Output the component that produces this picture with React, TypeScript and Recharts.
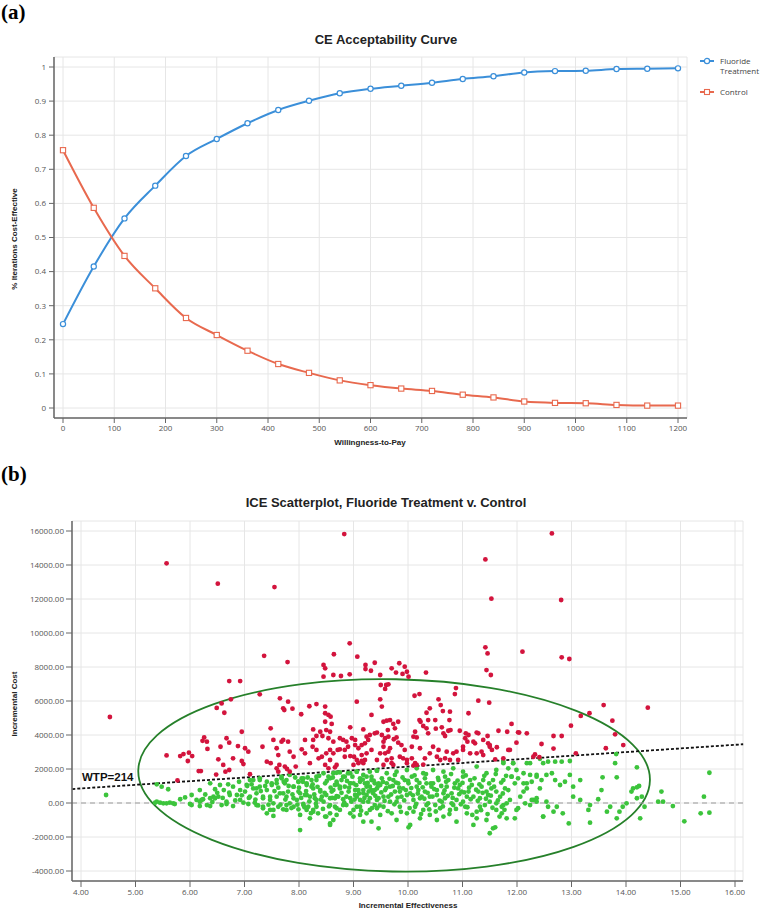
import React from 'react';
import {
  LineChart, Line, ScatterChart, Scatter, XAxis, YAxis, CartesianGrid,
  ReferenceLine, ReferenceArea,
} from 'recharts';

// ---- panel (a): CE acceptability curve ----
const wtpValues = [0, 60, 120, 180, 240, 300, 360, 420, 480, 540, 600, 660, 720, 780, 840, 900, 960, 1020, 1080, 1140, 1200];
const fluorideShare = [0.246, 0.415, 0.556, 0.652, 0.739, 0.789, 0.835, 0.874, 0.901, 0.923, 0.936, 0.945, 0.954, 0.965, 0.973, 0.984, 0.988, 0.989, 0.994, 0.995, 0.996];
const controlShare = [0.756, 0.587, 0.446, 0.351, 0.264, 0.214, 0.168, 0.129, 0.103, 0.081, 0.067, 0.057, 0.050, 0.039, 0.031, 0.019, 0.015, 0.014, 0.009, 0.007, 0.007];
const acceptXTicks = [0, 100, 200, 300, 400, 500, 600, 700, 800, 900, 1000, 1100, 1200];
const acceptYTicks = [0, 0.1, 0.2, 0.3, 0.4, 0.5, 0.6, 0.7, 0.8, 0.9, 1];

// ---- panel (b): ICE scatter (incremental effectiveness, incremental cost) ----
const redPoints: [number, number][] = [
  [5.57, 14100], [6.51, 12900], [7.55, 12700], [8.83, 15820], [8.93, 9390], [11.42, 14330], [12.64, 15860], [11.53, 12020], [12.81, 11940], [11.42, 9160],
  [4.53, 5060], [7.36, 8660], [7.79, 8290], [8.64, 8750], [9.07, 8610], [6.72, 7170], [6.92, 7170], [8.45, 8120], [8.48, 7920], [8.45, 7430], [8.63, 7530], [8.77, 7470], [8.93, 7570], [9.22, 8120], [9.22, 7880], [9.39, 8250], [9.32, 7780],
  [7.28, 6390], [6.49, 5590], [6.58, 5860], [6.75, 6100], [6.63, 5310], [7.65, 6160], [7.80, 5960], [7.71, 5570], [7.73, 5470], [7.88, 5550], [8.04, 5220], [8.19, 5690], [8.32, 5820], [8.48, 5670], [8.48, 5280], [8.54, 5180], [8.58, 5080], [9.06, 5960], [9.33, 5180],
  [5.57, 2800], [5.82, 2760], [5.88, 2880], [5.98, 2960], [6.04, 2760], [5.96, 2470], [6.26, 3860], [6.23, 3660], [6.31, 3610], [6.32, 3180], [6.16, 1880], [6.20, 1880], [5.77, 1330], [6.52, 2570], [6.56, 3310], [6.61, 2240], [6.67, 3810], [6.72, 3550], [6.88, 3350], [6.95, 4190], [7.01, 3220], [7.07, 3020], [6.79, 2630], [6.95, 2470], [6.98, 2290], [6.72, 1940], [6.65, 1840], [6.48, 1670], [7.10, 1690],
  [7.33, 3310], [7.48, 4390], [7.53, 3710], [7.59, 3220], [7.68, 3610], [7.71, 3710], [7.80, 3610], [7.41, 2430], [7.48, 2340], [7.59, 2040], [7.64, 2240], [7.74, 2140], [7.78, 2000], [7.83, 3020], [7.90, 2720], [8.05, 3160], [8.11, 2920], [7.94, 2140], [8.11, 3710], [8.26, 4330], [8.32, 3940], [8.25, 3310], [8.36, 2630], [8.42, 2720], [8.20, 2340], [8.39, 4190], [8.48, 4780], [8.50, 4290], [8.57, 4190], [8.60, 4650], [8.43, 3940], [8.54, 3810], [8.63, 3610], [8.57, 3120], [8.63, 2920], [8.71, 3120], [8.57, 2530], [8.48, 2240], [8.54, 2040], [8.66, 2100], [8.75, 3160], [8.84, 3120], [8.90, 3310], [8.81, 3710], [8.87, 3610], [8.97, 3810], [8.94, 4450], [8.84, 2720], [8.94, 2760], [9.01, 2720], [9.09, 3220], [9.15, 3410], [9.21, 3510], [9.03, 3710], [9.18, 4330], [9.30, 4000], [9.27, 3710], [9.39, 4100], [9.00, 2240], [9.09, 2340], [9.15, 2470], [9.21, 2530], [9.24, 2920], [9.33, 3120], [9.43, 2530],
  [11.46, 8800], [12.10, 8900], [12.82, 8570], [12.96, 8470], [11.44, 7820], [11.52, 7530], [9.49, 7530], [9.60, 6940], [9.64, 6980], [9.70, 7920], [9.78, 7670], [9.84, 8220], [9.90, 7590], [9.94, 8020], [9.98, 7720], [10.01, 7430], [10.33, 7670], [10.12, 6310], [10.21, 6410], [10.88, 6760], [10.86, 6410], [11.29, 6020], [11.49, 5900], [11.11, 5280], [10.56, 6100], [10.60, 5760], [10.64, 5410], [10.40, 5570], [10.34, 5310], [10.37, 4880], [10.21, 4880], [10.23, 4780], [10.77, 5370], [10.76, 4880], [10.78, 4290], [10.74, 4250], [10.95, 4250], [10.50, 4880], [10.51, 4370], [10.62, 4450], [10.65, 4100], [10.68, 3940], [10.28, 4530], [10.34, 4390], [10.37, 4100], [10.13, 4190], [10.10, 3900], [10.16, 3860], [11.06, 4100], [11.11, 4000], [11.05, 3810], [11.09, 3610], [11.26, 4140], [11.29, 4100], [11.46, 3940], [11.20, 3610], [11.23, 3510], [11.47, 3510], [11.50, 3310], [11.63, 3280], [11.54, 3120], [11.66, 4250], [11.82, 4190], [11.90, 4650], [12.02, 4160], [12.18, 4100], [11.99, 3550], [11.84, 3120], [12.45, 3470], [12.67, 3940], [12.82, 3940], [12.67, 3200], [12.33, 2860], [12.41, 2690], [12.99, 4550], [13.08, 2920], [13.17, 5120], [13.33, 5280], [13.59, 5760], [13.75, 4840], [13.80, 4040], [13.63, 3220], [13.95, 3410], [14.40, 5610],
  [9.49, 6100], [9.52, 5670], [9.55, 4780], [9.61, 4840], [9.67, 4880], [9.73, 4650], [9.82, 4780], [9.76, 4390], [9.52, 4000], [9.58, 3810], [9.64, 3900], [9.74, 3750], [9.79, 3860], [9.82, 3550], [9.55, 3310], [9.64, 3020], [9.67, 3220], [9.58, 2920], [9.49, 2920], [9.61, 2530], [9.70, 2630], [9.73, 2240], [9.55, 2240], [9.88, 3410], [9.94, 3120], [9.85, 2720], [9.98, 2530], [10.07, 2630], [10.07, 3310], [10.22, 3220], [10.31, 2630], [10.40, 2920], [10.46, 3310], [10.53, 2720], [10.59, 2530], [10.71, 3020], [10.77, 2530], [10.89, 3020], [10.92, 2530], [11.01, 3120], [10.56, 3120], [10.13, 2340], [10.28, 2260], [10.10, 2200],
  [11.14, 2920], [11.35, 3020], [11.38, 2820], [11.60, 2570], [9.50, 6940], [9.58, 6710], [9.43, 4140], [9.63, 4290], [12.04, 4140],
  [7.62, 2820], [8.26, 3710], [8.32, 3120], [8.50, 2920], [8.69, 2240], [7.62, 1840], [7.83, 1840],
  [8.75, 3810], [9.03, 3410], [9.06, 2530], [9.15, 2820], [9.18, 2340], [9.24, 3900], [9.55, 3610], [9.70, 2340], [9.91, 2630], [9.98, 2340], [10.16, 2240], [10.68, 2630], [10.83, 2920], [11.01, 3310], [11.26, 2920], [11.38, 3710], [11.50, 3410], [11.75, 2630], [11.87, 3120], [12.30, 2720],
];

const greenPoints: [number, number][] = [
  [4.46, 470], [5.39, 1100], [5.48, 960], [5.60, 810], [5.36, 20], [5.45, 20], [5.57, -20], [5.69, -20], [5.91, 330], [6.03, 470], [6.18, 760], [6.00, -60], [6.12, 180], [6.24, 220], [6.43, 370], [6.46, 810], [6.37, 1160], [6.55, 1060], [6.62, 760], [6.72, 610], [6.79, 960], [6.90, 1250], [6.92, 760], [7.04, 1060], [7.16, 1350], [7.28, 1450], [7.41, 1250], [7.50, 1160],
  [6.18, 80], [6.31, -120], [6.67, -60], [6.79, -180], [6.98, 20], [7.07, -60], [7.19, 20], [7.25, -140], [7.34, -220], [7.47, -410], [7.53, -20], [7.62, -220], [7.71, -370], [7.77, -120], [7.90, -220], [7.99, -370], [8.08, -60], [8.17, -220], [8.26, -410], [7.41, -610], [7.53, -760], [8.02, -1590], [8.35, -610], [8.48, -800], [8.57, -1200], [8.63, -1000], [8.75, -410], [8.87, -120], [9.00, -410], [9.00, -800], [9.12, -220], [9.24, -610], [9.43, -310], [9.46, -1490], [9.33, -1100],
  [7.59, 1160], [7.68, 1450], [7.77, 1350], [7.83, 1650], [7.90, 960], [7.99, 1250], [8.05, 1450], [8.14, 1160], [8.23, 960], [8.32, 1350], [8.39, 760], [8.48, 1160], [8.54, 1550], [8.63, 760], [8.69, 1250], [8.75, 960], [8.84, 1550], [8.94, 1160], [9.03, 760], [9.12, 1250], [9.18, 570], [9.24, 960], [9.33, 1350], [9.39, 760], [9.46, 1160],
  [7.65, 570], [7.77, 370], [7.90, 280], [8.02, 570], [8.14, 470], [8.29, 280], [8.42, 370], [8.57, 280], [8.69, 410], [8.81, 220], [8.94, 280], [9.06, 370], [9.18, 80], [9.30, 280], [9.43, 180],
  [8.63, 1750], [8.75, 1800], [8.90, 1750], [9.06, 1840], [9.18, 1650], [9.30, 1840], [9.43, 1900],
  [7.28, 960], [7.22, 570], [7.10, 370], [7.34, 280], [7.47, 370], [7.16, 860],
  [8.75, 860], [8.87, 370], [9.00, 1160], [9.12, 180], [9.18, 760], [9.30, 960], [9.36, 570], [9.46, 280], [9.49, 1060], [9.58, 760], [9.64, 370], [9.73, 1350], [9.79, 80], [9.85, -220], [9.91, 860], [9.98, 470], [10.07, 1550], [10.10, 180], [10.19, 760], [10.28, -410], [10.34, 1160], [10.40, 370], [10.50, -120], [10.56, 1350], [10.65, 570], [10.71, 960], [10.77, -410], [10.86, 1160], [10.89, 180], [10.98, 670], [11.05, -220], [11.14, 1350], [11.20, 370], [11.26, -510], [11.35, 960], [11.41, -120], [11.47, 470], [11.56, 1350], [11.62, -410], [11.69, 370], [11.78, 860], [11.87, 180], [11.96, 1160], [12.02, -310], [12.12, 670], [12.24, 1650], [12.30, 180], [12.42, 860], [12.48, -800],
  [8.69, 1780], [8.81, 1550], [8.94, 1750], [9.06, 1840], [9.24, 1550], [9.43, 1900], [9.61, 1750], [9.79, 1840], [9.98, 1940], [10.16, 2040], [10.28, 1750], [10.46, 1940], [10.65, 1840], [10.83, 2040], [11.01, 1840], [11.26, 2140], [11.44, 1750], [11.62, 1940], [11.75, 2340], [11.93, 2340], [12.12, 1750], [12.24, 2340], [12.36, 1550], [12.48, 2340],
  [8.69, -700], [8.94, -610], [9.18, -1100], [9.79, -1000], [10.01, -1430], [10.04, -1290], [10.22, -900], [10.53, -1000], [10.89, -1100], [11.20, -1290], [11.44, -1000], [11.50, -1780], [11.56, -1490], [11.81, -900],
  [8.66, -220], [8.81, -120], [9.06, -220], [9.30, -410], [9.55, -220], [9.70, -610], [10.10, -510], [10.34, -120], [10.59, -310], [10.83, -120], [11.08, -610], [11.32, -220], [11.75, -120], [11.99, -410], [12.24, -120],
  [8.84, 960], [9.09, 760], [9.24, 470], [9.39, 1160], [9.52, 1450], [9.67, 960], [9.85, 670], [10.01, 1160], [10.16, 1350], [10.25, 370], [10.43, 960], [10.53, 470], [10.62, 80], [10.80, 570], [10.95, 1060], [11.08, 370], [11.29, 670], [11.38, 1350], [11.53, 860], [11.75, 1350], [11.90, 1550], [12.06, 370], [12.18, 1160], [12.36, 80], [12.54, 80],
  [11.75, 2430], [11.84, 2040], [11.93, 2340], [11.99, 1940], [11.90, 1550], [12.02, 1450], [12.12, 1160], [12.18, 860], [12.27, 1250], [12.36, 1650], [12.45, 1350], [12.54, 1650], [12.64, 1750], [12.70, 1350], [12.79, 1060], [12.88, 1250], [12.97, 1650], [13.16, 1350], [13.03, 960], [12.70, 2430], [12.82, 2430], [12.97, 2470], [12.42, 2600], [12.57, 2430], [12.18, 2340],
  [11.96, -900], [12.15, -20], [12.27, 180], [12.36, 280], [12.48, -800], [12.57, -220], [12.67, -510], [12.73, -220], [12.84, -610], [12.95, -1200], [13.03, 370], [13.16, 180], [13.31, -410], [13.34, -120], [13.34, -1160], [13.49, 220], [13.55, 760], [13.65, -510], [13.71, -220], [13.83, -900], [13.88, -510], [13.94, -220], [14.01, -20], [14.10, 670], [14.13, 860], [14.20, 920], [14.24, 1000], [14.20, 280], [14.29, 370], [14.26, -900], [14.34, -220], [14.20, 2100], [13.82, 2880], [13.80, 2340], [13.83, 1510], [13.57, 1510], [14.65, 670], [14.68, 80], [14.86, -180], [15.07, -1080], [15.37, -610], [15.43, 370], [15.53, -570], [15.53, 1780], [14.59, 80],
  [11.60, -1430], [11.72, -610], [11.81, -20], [11.62, -20],
  [5.39, 80], [5.51, -20], [5.63, 20], [5.72, -60], [5.82, 220], [6.21, 180], [6.03, -120], [6.18, -180], [6.37, 280], [6.46, 280], [6.52, 370], [6.37, -180], [6.58, -120], [6.67, 80], [6.73, 470], [6.86, 470], [6.92, 180], [7.01, 670], [7.05, 1000], [7.10, 1350], [7.22, 860], [7.28, 1350], [7.41, 760], [7.50, 1060], [7.59, 1350], [7.68, 1550], [7.74, 1160], [7.80, 670], [7.90, 960], [7.99, 1250], [8.08, 1450], [8.14, 1060], [8.23, 1350], [8.32, 1550], [8.45, 1750], [8.57, 1450], [8.66, 1060], [7.34, 370], [7.47, 180], [7.59, 370], [7.71, 570], [7.83, -20], [7.96, 180], [8.08, -120], [8.20, 370], [8.32, -220], [8.45, 80], [8.57, -120], [8.66, 280], [7.22, -120], [7.34, -310], [7.53, -410], [7.77, -410], [8.02, -700], [8.26, -510], [8.50, -800], [8.57, -1290],
  [8.60, 670], [8.72, 370], [8.78, 1350], [8.91, 670], [8.96, 80], [9.03, 470], [9.12, 1450], [9.21, 1160], [9.27, 80], [9.33, 760], [9.39, -120], [9.43, 860], [9.55, 370], [9.61, 1160], [9.67, 80], [9.76, 670], [9.82, 1160], [9.88, 370], [9.94, 1350], [10.04, 570], [10.13, -220], [10.16, 960], [10.22, 280], [10.31, 670], [10.37, -20], [10.46, 1160], [10.53, 760], [10.68, 280], [10.74, 1350], [10.80, -20], [10.92, 860], [11.01, 80], [11.11, 670], [11.17, 1060], [11.32, 280], [11.44, 670], [11.50, 80], [11.62, 670], [11.72, -220], [11.84, 760], [10.31, 1450], [9.76, 1650], [9.33, 1550], [8.94, 1160], [10.68, 1550], [11.01, 1550], [9.98, -610], [10.40, -700], [9.49, -700], [9.12, -700], [10.65, -800], [11.26, -900],
  [8.39, 670], [8.50, 470], [8.26, 860], [8.11, 470], [7.99, 670], [8.32, 180], [8.69, -310], [8.14, -410], [8.57, -610], [8.20, -900],
  [8.62, 1500], [8.70, 1100], [8.78, 600], [8.83, 20], [8.88, 1300], [8.92, 900], [8.98, 1550], [9.02, 200], [9.05, 1050], [9.10, 560], [9.14, -450], [9.17, 1380], [9.20, 300], [9.26, 1180], [9.28, 680], [9.34, -300], [9.37, 1320], [9.40, 420], [9.45, 1000], [9.48, -150], [9.51, 620], [9.54, 1240], [9.57, 120], [9.60, 880], [9.63, -480], [9.66, 1420], [9.69, 500], [9.72, 1000], [9.75, -80], [9.78, 1200], [9.81, 320], [9.84, 900], [9.87, -520], [9.90, 1500], [9.93, 150], [9.96, 760], [10.00, 1300], [10.03, -300], [10.06, 880], [10.09, 450], [10.12, 1620], [10.15, -60], [10.18, 560], [10.21, 1180], [10.24, -650], [10.27, 920], [10.30, 250], [10.33, 1700], [10.36, 600], [10.39, -380], [10.42, 1150], [10.45, 380], [10.48, 820], [10.51, -500], [10.55, 1480], [10.58, 140], [10.61, 1000], [10.64, -200], [10.67, 740], [10.70, 1250], [10.73, 420], [10.76, -650], [10.79, 1700], [10.82, 300], [10.85, 900], [10.88, -350], [10.91, 1320], [10.94, 520], [10.97, -80], [11.00, 1180], [11.03, 620], [11.06, 1620], [11.09, -250], [11.12, 900], [11.15, 220], [11.18, -700], [11.22, 1450], [11.25, 780], [11.28, 130], [11.31, 1100], [11.34, -420], [11.37, 600], [11.40, 1600], [11.43, 250], [11.46, -650], [11.49, 1150], [11.52, 430], [11.55, -280], [11.58, 960], [11.61, 1700], [11.65, 160], [11.68, -800], [11.71, 1200], [11.74, 560], [11.77, -400], [11.80, 1600],
  [7.55, 700], [7.62, 900], [7.66, -100], [7.72, 1250], [7.75, 200], [7.81, 1000], [7.86, -300], [7.88, 500], [7.93, 1500], [7.97, -100], [8.00, 900], [8.04, 300], [8.07, 1250], [8.10, -250], [8.13, 700], [8.16, 1500], [8.19, 100], [8.22, -600], [8.25, 1100], [8.28, 500], [8.31, -50], [8.34, 950], [8.37, 1600], [8.40, 200], [8.44, -350], [8.47, 600], [8.51, 1300], [8.55, -200], [8.58, 900], [8.61, 300],
  [6.28, 500], [6.41, 60], [6.50, 600], [6.60, 300], [6.70, 1100], [6.83, 150], [6.95, 450], [7.08, 300], [7.13, 1100], [7.20, 200], [7.30, 700], [7.38, 1000], [7.44, -100],
];

const effTicks = [4, 5, 6, 7, 8, 9, 10, 11, 12, 13, 14, 15, 16];
const costTicks = [-4000, -2000, 0, 2000, 4000, 6000, 8000, 10000, 12000, 14000, 16000];
const WTP = 214;
// bounding box of the green confidence ellipse (effectiveness, cost)
const ellipseEff = [5.05, 14.44];
const ellipseCost = [-4030, 7280];

const BLUE = '#3b8fd9';
const RED = '#e8694e';
const DOT_RED = '#d3143d';
const DOT_GREEN = '#3cc43c';
const AXIS = '#666';
const GRID = '#e6e6e6';
const tickStyle = { fontSize: 8, fill: '#555', fontFamily: '"Open Sans", sans-serif' };
const sans = 'Arial, "Liberation Sans", sans-serif';

const acceptData = wtpValues.map((w, i) => ({ wtp: w, fluoride: fluorideShare[i], control: controlShare[i] }));
const redData = redPoints.map(([x, y]) => ({ x, y }));
const greenData = greenPoints.map(([x, y]) => ({ x, y }));

const SquareDot = (props: any) => {
  const { cx, cy, index } = props;
  return <rect key={`sq-${index}`} x={cx - 2.6} y={cy - 2.6} width={5.2} height={5.2} fill="#fff" stroke={RED} strokeWidth={1.1} />;
};

const EllipseShape = (props: any) => {
  const { x, y, width, height } = props;
  const cx = x + width / 2;
  const cy = y + height / 2;
  return (
    <ellipse cx={cx} cy={cy} rx={Math.abs(width) / 2} ry={Math.abs(height) / 2}
      fill="none" stroke="#26802a" strokeWidth={1.8} transform={`rotate(1.1 ${cx} ${cy})`} />
  );
};

const Title = ({ text, cx, cy }: { text: string; cx: number; cy: number }) => (
  <div style={{ position: 'absolute', left: cx - 200, top: cy - 8, width: 400, height: 16, lineHeight: '16px', textAlign: 'center', fontFamily: sans, fontWeight: 'bold', fontSize: 13, color: '#222' }}>
    {text}
  </div>
);

const AxisTitle = ({ text, cx, cy, rotate }: { text: string; cx: number; cy: number; rotate?: boolean }) => (
  <div style={{ position: 'absolute', left: cx - 120, top: cy - 6, width: 240, height: 12, lineHeight: '12px', textAlign: 'center', fontFamily: sans, fontWeight: 'bold', fontSize: 8, color: '#222', transform: rotate ? 'rotate(-90deg)' : undefined }}>
    {text}
  </div>
);

const PanelLabel = ({ text, top }: { text: string; top: number }) => (
  <div style={{ position: 'absolute', left: 1, top, fontFamily: '"Liberation Serif", "Times New Roman", serif', fontWeight: 'bold', fontSize: 21, lineHeight: 1 }}>
    {text}
  </div>
);

const LegendItem = ({ color, square, lines, top }: { color: string; square?: boolean; lines: string[]; top: number }) => (
  <div style={{ position: 'absolute', left: 699, top, fontFamily: '"Open Sans", sans-serif', fontSize: 8, lineHeight: '10px', color: '#444' }}>
    <svg width={16} height={10} style={{ position: 'absolute', left: 0, top: 0 }}>
      <line x1={1} y1={5} x2={15} y2={5} stroke={color} strokeWidth={2} />
      {square
        ? <rect x={5.5} y={2.5} width={5} height={5} fill="#fff" stroke={color} strokeWidth={1.1} />
        : <circle cx={8} cy={5} r={2.6} fill="#fff" stroke={color} strokeWidth={1.2} />}
    </svg>
    <div style={{ position: 'absolute', left: 21, top: 0, whiteSpace: 'nowrap' }}>
      {lines.map((l) => <div key={l}>{l}</div>)}
    </div>
  </div>
);

export default function App() {
  return (
    <div style={{ position: 'absolute', left: 0, top: 0, width: 762, height: 912, background: '#fff', overflow: 'hidden' }}>
      <PanelLabel text="(a)" top={2} />
      <Title text="CE Acceptability Curve" cx={386} cy={40} />
      <div style={{ position: 'absolute', left: 0, top: 0 }}>
        <LineChart width={762} height={460} data={acceptData} margin={{ top: 57, right: 75, bottom: 12, left: 0 }}>
          <CartesianGrid stroke={GRID} />
          <XAxis dataKey="wtp" type="number" domain={[0, 1200]} ticks={acceptXTicks} padding={{ left: 9, right: 9 }}
            height={30} tickSize={5} tickMargin={2} tick={tickStyle}
            axisLine={{ stroke: AXIS, strokeWidth: 1.5 }} tickLine={{ stroke: AXIS }} />
          <YAxis type="number" domain={[0, 1]} ticks={acceptYTicks} padding={{ top: 10, bottom: 10 }}
            width={54} tickSize={5} tickMargin={3} tick={tickStyle} tickFormatter={(v) => String(Math.round(v * 10) / 10)}
            axisLine={{ stroke: AXIS, strokeWidth: 1.5 }} tickLine={{ stroke: AXIS }} />
          <Line type="monotone" dataKey="fluoride" stroke={BLUE} strokeWidth={2} isAnimationActive={false}
            dot={{ r: 2.6, stroke: BLUE, strokeWidth: 1.2, fill: '#fff' }} />
          <Line type="monotone" dataKey="control" stroke={RED} strokeWidth={2} isAnimationActive={false}
            dot={SquareDot} />
        </LineChart>
      </div>
      <LegendItem color={BLUE} lines={['Fluoride', 'Treatment']} top={56} />
      <LegendItem color={RED} square lines={['Control']} top={87} />
      <AxisTitle text="Willingness-to-Pay" cx={370} cy={443} />
      <AxisTitle text="% Iterations Cost-Effective" cx={15} cy={239} rotate />

      <PanelLabel text="(b)" top={464} />
      <Title text="ICE Scatterplot, Fluoride Treatment v. Control" cx={386} cy={503} />
      <div style={{ position: 'absolute', left: 0, top: 450 }}>
        <ScatterChart width={762} height={462} margin={{ top: 71, right: 19, bottom: 1, left: 0 }}>
          <CartesianGrid stroke={GRID} />
          <XAxis dataKey="x" type="number" domain={[4, 16]} ticks={effTicks} padding={{ left: 9, right: 8 }}
            height={30} tickSize={6} tickMargin={2} tick={tickStyle} tickFormatter={(v) => v.toFixed(2)}
            axisLine={{ stroke: AXIS, strokeWidth: 1.5 }} tickLine={{ stroke: AXIS }} />
          <YAxis dataKey="y" type="number" domain={[-4000, 16000]} ticks={costTicks} padding={{ top: 10, bottom: 10 }}
            width={72} tickSize={6} tickMargin={2} tick={tickStyle} tickFormatter={(v) => v.toFixed(2)}
            axisLine={{ stroke: AXIS, strokeWidth: 1.5 }} tickLine={{ stroke: AXIS }} />
          <ReferenceLine y={0} stroke="#9a9a9a" strokeWidth={1.2} strokeDasharray="5 4" />
          <Scatter data={greenData} isAnimationActive={false}
            shape={(p: any) => <circle cx={p.cx} cy={p.cy} r={2.4} fill={DOT_GREEN} />} />
          <Scatter data={redData} isAnimationActive={false}
            shape={(p: any) => <circle cx={p.cx} cy={p.cy} r={2.4} fill={DOT_RED} />} />
          <ReferenceArea x1={ellipseEff[0]} x2={ellipseEff[1]} y1={ellipseCost[0]} y2={ellipseCost[1]}
            ifOverflow="visible" shape={EllipseShape} />
          <ReferenceLine ifOverflow="visible" stroke="#111" strokeWidth={1.8} strokeDasharray="3 2"
            segment={[{ x: 3.84, y: WTP * 3.84 }, { x: 16.15, y: WTP * 16.15 }]} />
        </ScatterChart>
      </div>
      <div style={{ position: 'absolute', left: 82, top: 772, fontFamily: sans, fontWeight: 'bold', fontSize: 11.5, lineHeight: 1, color: '#111' }}>
        WTP={WTP}
      </div>
      <AxisTitle text="Incremental Effectiveness" cx={408} cy={906} />
      <AxisTitle text="Incremental Cost" cx={15} cy={704} rotate />
    </div>
  );
}
